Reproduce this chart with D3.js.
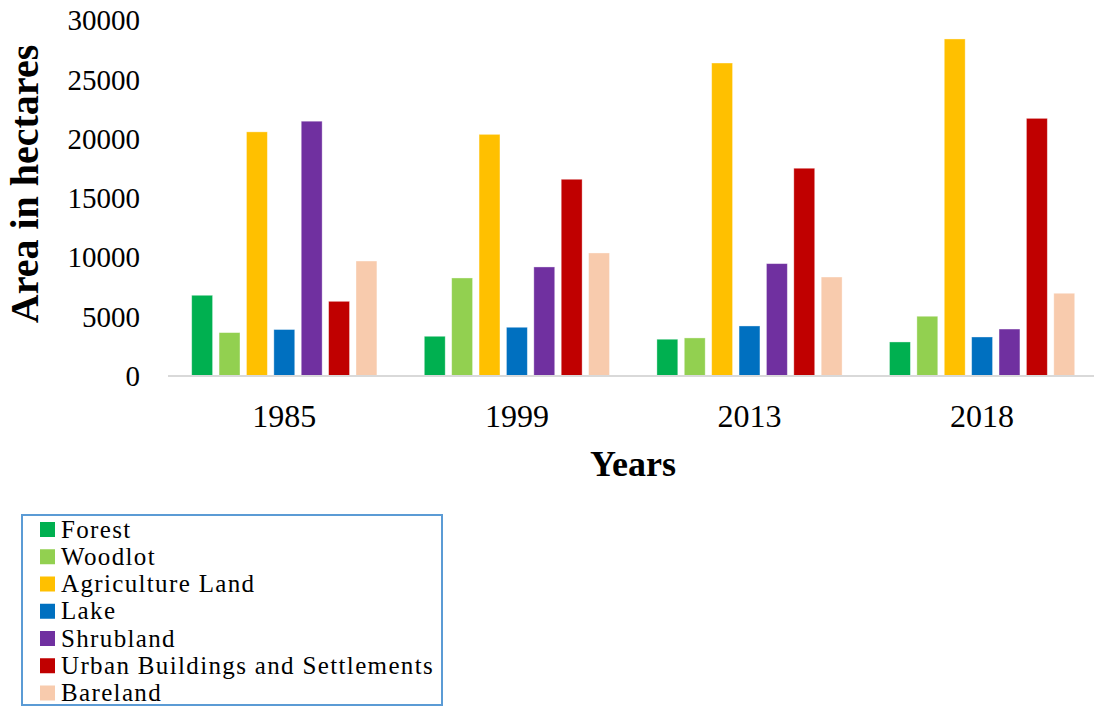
<!DOCTYPE html>
<html>
<head>
<meta charset="utf-8">
<script src="https://cdn.jsdelivr.net/npm/d3@7/dist/d3.min.js"></script>
<style>
  html, body { margin: 0; padding: 0; background: #fff; }
  svg { display: block; }
  text { font-family: "Liberation Serif", "Times New Roman", serif; fill: #000; }
</style>
</head>
<body>
<svg id="chart" width="1094" height="707"></svg>
<script>
// Land cover area (hectares) by year
const years = ["1985", "1999", "2013", "2018"];
const landClasses = ["Forest", "Woodlot", "Agriculture Land", "Lake", "Shrubland",
                     "Urban Buildings and Settlements", "Bareland"];
const classColors = ["#00B050", "#92D050", "#FFC000", "#0070C0", "#7030A0", "#C00000", "#F8CBAD"];

const forest    = [6770, 3310, 3060, 2830];
const woodlot   = [3620, 8230, 3170, 5000];
const agri      = [20560, 20350, 26370, 28400];
const lake      = [3880, 4070, 4180, 3250];
const shrubland = [21460, 9160, 9440, 3920];
const urban     = [6260, 16560, 17490, 21700];
const bareland  = [9660, 10340, 8310, 6940];
const yTicks = [0, 5000, 10000, 15000, 20000, 25000, 30000];

const seriesValues = [forest, woodlot, agri, lake, shrubland, urban, bareland];

const svg = d3.select("#chart");

const plot = { left: 168, right: 1098.4, top: 20, bottom: 375.5 };

const x0 = d3.scaleBand().domain(years).range([plot.left, plot.right]).padding(0);
const groupPad = 23.7;
const x1 = d3.scaleBand().domain(landClasses)
  .range([groupPad, x0.bandwidth() - groupPad])
  .paddingInner(0.237).paddingOuter(0);
const y = d3.scaleLinear().domain([0, 30000]).range([plot.bottom, plot.top]);

// bars
const groups = svg.append("g").selectAll("g")
  .data(years)
  .join("g")
  .attr("transform", d => `translate(${x0(d)},0)`);

groups.selectAll("rect")
  .data((yr, i) => landClasses.map((c, k) => ({ cls: c, k, v: seriesValues[k][i] })))
  .join("rect")
  .attr("x", d => x1(d.cls))
  .attr("width", x1.bandwidth())
  .attr("y", d => y(d.v))
  .attr("height", d => y(0) - y(d.v))
  .attr("fill", d => classColors[d.k])
  .attr("stroke", "rgba(255,255,255,0.45)")
  .attr("stroke-width", 0.8);

// baseline
svg.append("line")
  .attr("x1", plot.left).attr("x2", 1094)
  .attr("y1", y(0) + 0.5).attr("y2", y(0) + 0.5)
  .attr("stroke", "#d9d9d9").attr("stroke-width", 2);

// y axis labels
const yAxis = d3.axisLeft(y).tickValues(yTicks).tickSize(0).tickPadding(0).tickFormat(d3.format("d"));
const yg = svg.append("g").attr("transform", "translate(140,0)").call(yAxis);
yg.select(".domain").remove();
yg.selectAll("text")
  .attr("font-family", "Liberation Serif")
  .attr("font-size", 29)
  .attr("fill", "#000")
  .attr("dy", "0.34em");

// x axis labels
const xAxis = d3.axisBottom(x0).tickSize(0).tickPadding(0);
const xg = svg.append("g").attr("transform", `translate(0,${plot.bottom})`).call(xAxis);
xg.select(".domain").remove();
xg.selectAll("text")
  .attr("font-family", "Liberation Serif")
  .attr("font-size", 32)
  .attr("fill", "#000")
  .attr("dy", null)
  .attr("y", 51);

// axis titles
svg.append("text")
  .attr("transform", "translate(38,184) rotate(-90)")
  .attr("text-anchor", "middle")
  .attr("font-weight", "bold")
  .attr("font-size", 40)
  .text("Area in hectares");

svg.append("text")
  .attr("x", 633).attr("y", 476)
  .attr("text-anchor", "middle")
  .attr("font-weight", "bold")
  .attr("font-size", 36)
  .text("Years");

// legend
const legend = svg.append("g");
legend.append("rect")
  .attr("x", 22).attr("y", 515)
  .attr("width", 420).attr("height", 190)
  .attr("fill", "#fff")
  .attr("stroke", "#5B9BD5").attr("stroke-width", 2);

const rowY = d3.scalePoint().domain(landClasses).range([529.5, 693]);
const items = legend.selectAll("g.item")
  .data(landClasses)
  .join("g")
  .attr("class", "item")
  .attr("transform", d => `translate(40,${rowY(d)})`);
items.append("rect")
  .attr("x", 0).attr("y", -7.5)
  .attr("width", 15).attr("height", 15)
  .attr("fill", (d, i) => classColors[i]);
items.append("text")
  .attr("x", 21).attr("y", 8)
  .attr("font-size", 25)
  .attr("letter-spacing", 1.35)
  .text(d => d);
</script>
</body>
</html>
